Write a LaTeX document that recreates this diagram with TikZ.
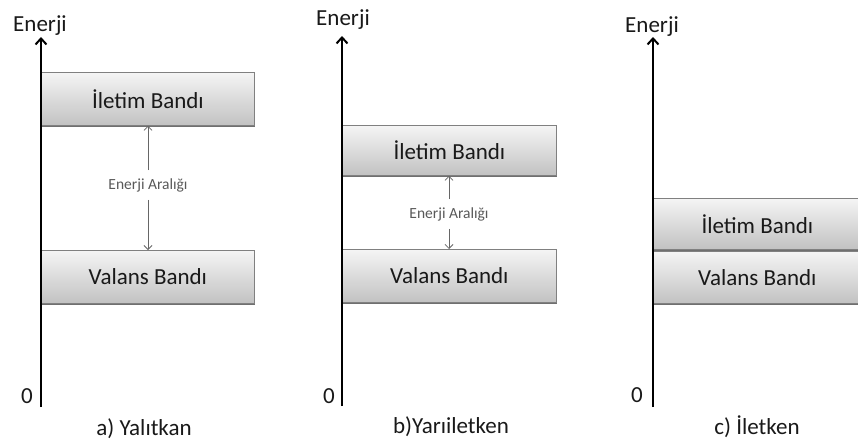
\documentclass[tikz,border=0pt]{standalone}
\usepackage{fontspec}
\setmainfont{Carlito}
\usetikzlibrary{arrows.meta,shadows}

\tikzset{
  band/.style={draw=black!50, line width=0.8pt, top color=black!4, bottom color=black!24,
    text=black!90, font=\fontsize{23}{25}\selectfont, inner sep=0pt, anchor=north west,
    drop shadow={shadow xshift=0.8pt, shadow yshift=-1.6pt, fill=black!70, opacity=0.8}},
  axis/.style={line width=2.6pt, -{Straight Barb[length=6pt,width=11pt,line width=2pt]}},
  gap/.style={draw=black!60, line width=0.8pt, -{Straight Barb[length=4pt,width=8pt,line width=0.8pt]}},
  gaplabel/.style={fill=white, text=black!65, font=\fontsize{15.5}{17}\selectfont, inner xsep=1pt, inner ysep=8pt},
  axlabel/.style={text=black!90, font=\fontsize{23}{25}\selectfont, anchor=base, inner sep=0pt},
}

\begin{document}
\begin{tikzpicture}[x=1pt, y=-1pt]
\clip (0,0) rectangle (858,445);
\fill[white] (0,0) rectangle (858,445);

% ---- a) insulator: wide gap between bands
\node[band, minimum width=213pt, minimum height=53pt] (ia) at (41,72) {İletim Bandı};
\node[band, minimum width=213pt, minimum height=53pt] (va) at (41,250) {Valans Bandı};
\node[gaplabel] (ga) at (148,185) {Enerji Aralığı};
\draw[gap] (ga.north) -- (ga.north |- ia.south);
\draw[gap] (ga.south) -- (ga.south |- va.north);
\coordinate (a0) at (41,407);
\coordinate (a1) at (41,37);
\draw[axis] (a0) -- (a1);
\node[axlabel] (ea) at (40,31) {Enerji};
\node[axlabel] (za) at (27,403) {0};
\node[axlabel] (ca) at (144,435) {a) Yalıtkan};

% ---- b) semiconductor: narrow gap
\node[band, minimum width=214pt, minimum height=50pt] (ib) at (342,125) {İletim Bandı};
\node[band, minimum width=214pt, minimum height=53pt] (vb) at (342,249) {Valans Bandı};
\node[gaplabel] (gb) at (449,214) {Enerji Aralığı};
\draw[gap] (gb.north) -- (gb.north |- ib.south);
\draw[gap] (gb.south) -- (gb.south |- vb.north);
\coordinate (b0) at (342,406);
\coordinate (b1) at (342,36);
\draw[axis] (b0) -- (b1);
\node[axlabel] (eb) at (343,25) {Enerji};
\node[axlabel] (zb) at (329,403) {0};
\node[axlabel] (cb) at (451,433) {b)Yarıiletken};

% ---- c) conductor: bands touch
\node[band, minimum width=230pt, minimum height=51pt] (ic) at (653,198) {\hspace*{-22pt}İletim Bandı};
\node[band, minimum width=230pt, minimum height=52pt] (vc) at (653,251) {\hspace*{-22pt}Valans Bandı};
\coordinate (c0) at (653,407);
\coordinate (c1) at (653,37);
\draw[axis] (c0) -- (c1);
\node[axlabel] (ec) at (652,32) {Enerji};
\node[axlabel] (zc) at (637,402) {0};
\node[axlabel] (cc) at (757,434) {c) İletken};
\end{tikzpicture}
\end{document}
